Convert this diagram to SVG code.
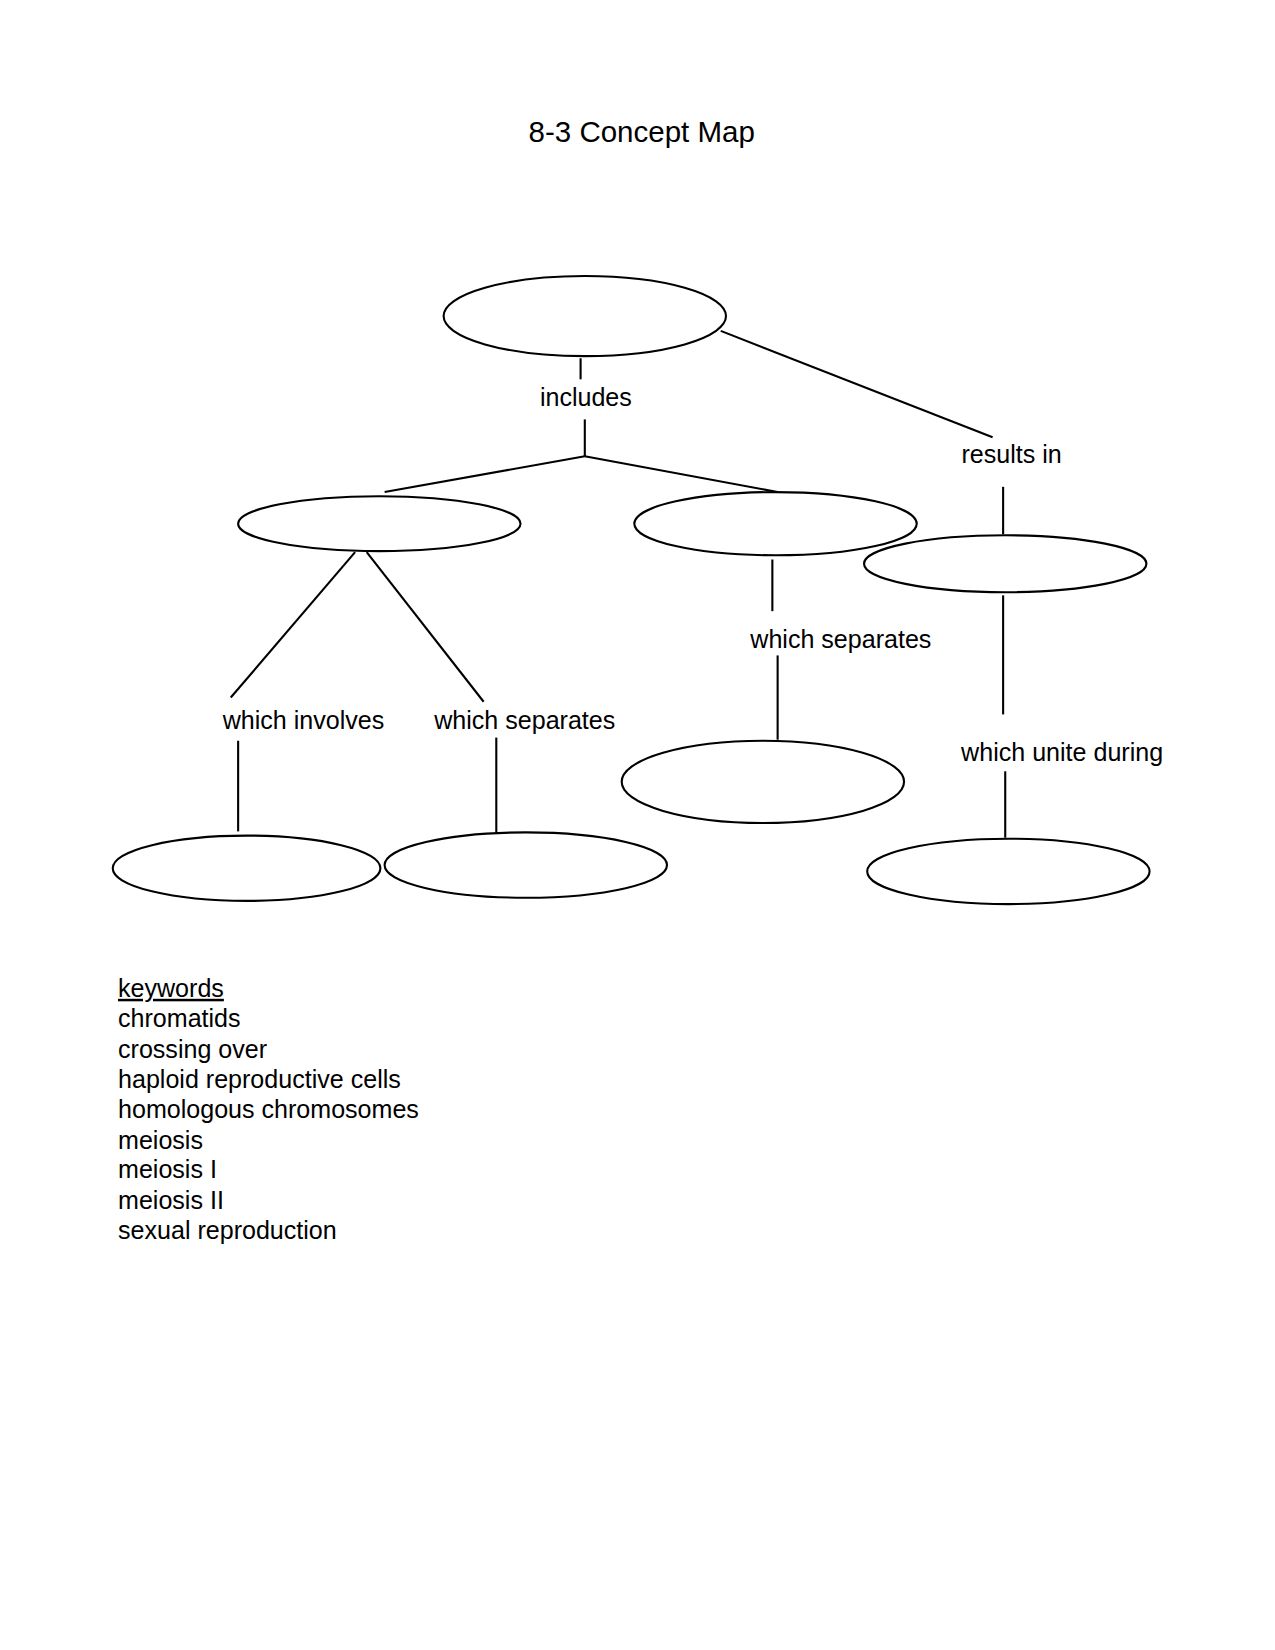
<svg xmlns="http://www.w3.org/2000/svg" width="1275" height="1650" viewBox="0 0 1275 1650">
<style>
text{font-family:"Liberation Sans",Arial,sans-serif;font-size:23.8px;fill:#000}
.c{text-anchor:middle}
ellipse{fill:none;stroke:#000;stroke-width:2}
line{stroke:#000;stroke-width:2}
</style>
<rect width="1275" height="1650" fill="#fff"/>
<g transform="scale(1.0537)">
<text class="c" x="609" y="135" style="font-size:28px">8-3 Concept Map</text>
<g id="n1"><ellipse cx="555" cy="300" rx="134" ry="38"/></g>
<g id="n2"><ellipse cx="360" cy="497" rx="134" ry="26"/></g>
<g id="n3"><ellipse cx="736" cy="497" rx="134" ry="30"/></g>
<g id="n4"><ellipse cx="954" cy="535" rx="134" ry="27"/></g>
<g id="n5"><ellipse cx="234" cy="824" rx="127" ry="31"/></g>
<g id="n6"><ellipse cx="499" cy="821" rx="134" ry="31"/></g>
<g id="n7"><ellipse cx="724" cy="742" rx="134" ry="39"/></g>
<g id="n8"><ellipse cx="957" cy="827" rx="134" ry="31"/></g>
<g id="connectors">
<line x1="551" y1="340" x2="551" y2="360"/>
<line x1="555" y1="398" x2="555" y2="433"/>
<line x1="555" y1="433" x2="365" y2="467"/>
<line x1="555" y1="433" x2="738" y2="467"/>
<line x1="684" y1="314" x2="942" y2="415"/>
<line x1="952" y1="462" x2="952" y2="507"/>
<line x1="952" y1="565" x2="952" y2="678"/>
<line x1="954" y1="732" x2="954" y2="795"/>
<line x1="733" y1="531" x2="733" y2="580"/>
<line x1="738" y1="622" x2="738" y2="702"/>
<line x1="337" y1="524" x2="219" y2="662"/>
<line x1="348" y1="524" x2="459" y2="666"/>
<line x1="226" y1="703" x2="226" y2="789"/>
<line x1="471" y1="700" x2="471" y2="791"/>
<text class="c" x="556" y="385">includes</text>
<text class="c" x="960" y="439">results in</text>
<text class="c" x="798" y="615">which separates</text>
<text class="c" x="288" y="692">which involves</text>
<text class="c" x="498" y="692">which separates</text>
<text class="c" x="1008" y="722">which unite during</text>
</g>
<g id="keywords">
<text x="112" y="946" text-decoration="underline">keywords</text>
<text x="112" y="975">chromatids</text>
<text x="112" y="1004">crossing over</text>
<text x="112" y="1033">haploid reproductive cells</text>
<text x="112" y="1061">homologous chromosomes</text>
<text x="112" y="1090">meiosis</text>
<text x="112" y="1118">meiosis I</text>
<text x="112" y="1147">meiosis II</text>
<text x="112" y="1176">sexual reproduction</text>
</g>
</g>
</svg>
